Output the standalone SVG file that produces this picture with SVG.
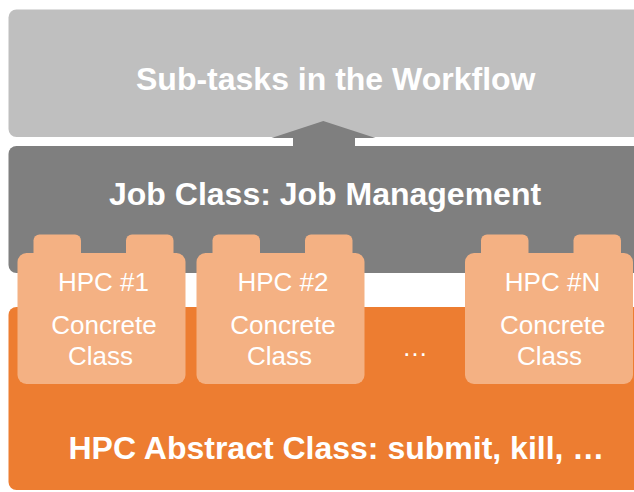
<svg xmlns="http://www.w3.org/2000/svg" width="634" height="492" viewBox="0 0 634 492">
  <style>
    .layer-title { font-family: "Liberation Sans", Arial, sans-serif; font-weight: bold; font-size: 32px; fill: #ffffff; }
    .card-text { font-family: "Liberation Sans", Arial, sans-serif; font-size: 26px; fill: #ffffff; text-anchor: middle; }
    .card { fill: #f4b183; }
  </style>
  <defs>
    <!-- an HPC concrete-class card: two tabs on top of a rounded body -->
    <g id="card-shape">
      <rect class="card" x="16" y="0" width="47.5" height="30" rx="6"/>
      <rect class="card" x="108.5" y="0" width="47.5" height="30" rx="6"/>
      <rect class="card" x="0" y="18.5" width="168" height="131" rx="9"/>
    </g>
  </defs>

  <rect width="634" height="492" fill="#ffffff"/>

  <!-- workflow layer -->
  <g id="workflow">
    <rect x="8.5" y="9.5" width="640" height="127.5" rx="8" fill="#bfbfbf"/>
    <text class="layer-title" x="136" y="90">Sub-tasks in the Workflow</text>
  </g>

  <!-- job management layer -->
  <g id="job-class">
    <rect x="8.5" y="146" width="640" height="127" rx="8" fill="#7f7f7f"/>
    <text class="layer-title" x="109" y="205">Job Class: Job Management</text>
  </g>

  <!-- abstract HPC layer -->
  <g id="hpc-abstract">
    <rect x="8.5" y="307" width="640" height="183" rx="8" fill="#ed7d31"/>
    <text class="layer-title" x="68.5" y="458.5">HPC Abstract Class: submit, kill, …</text>
    <text class="card-text" x="415" y="355.5">…</text>
  </g>

  <!-- concrete classes -->
  <g id="hpc-1">
    <use href="#card-shape" x="17.5" y="234.5"/>
    <text class="card-text" x="103.5" y="290.5">HPC #1</text>
    <text class="card-text" x="104" y="334">Concrete</text>
    <text class="card-text" x="100.5" y="365">Class</text>
  </g>
  <g id="hpc-2">
    <use href="#card-shape" x="196.5" y="234.5"/>
    <text class="card-text" x="283" y="290.5">HPC #2</text>
    <text class="card-text" x="283" y="334">Concrete</text>
    <text class="card-text" x="279.5" y="365">Class</text>
  </g>
  <g id="hpc-n">
    <use href="#card-shape" x="465" y="234.5"/>
    <text class="card-text" x="552.5" y="290.5">HPC #N</text>
    <text class="card-text" x="552.8" y="334">Concrete</text>
    <text class="card-text" x="549.5" y="365">Class</text>
  </g>

  <!-- connectors -->
  <g id="connectors">
    <polygon points="293,148 293,138 271.5,138 323.3,121 375.5,138 355,138 355,148" fill="#7f7f7f"/>
  </g>
</svg>
